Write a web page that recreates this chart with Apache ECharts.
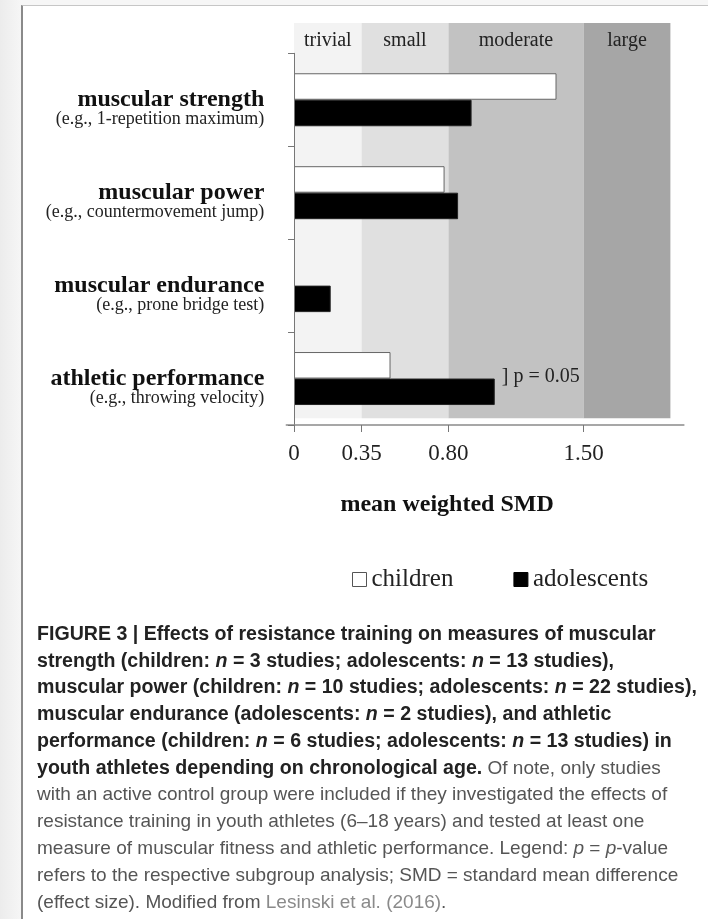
<!DOCTYPE html>
<html>
<head>
<meta charset="utf-8">
<script src="https://cdn.jsdelivr.net/npm/echarts@6/dist/echarts.min.js"></script>
<style>
  html, body { margin: 0; padding: 0; width: 708px; height: 919px; overflow: hidden;
    background: linear-gradient(to right, #ececec, #f6f6f6 21px); }
  #frame { position: absolute; left: 21px; top: 5px; right: 0; bottom: 0; background: #fff;
    border-left: 2px solid #8a8a8a; border-top: 1px solid #c6c6c6; }
  #chart { position: absolute; left: 0; top: 0; width: 708px; height: 919px; }
</style>
</head>
<body>
<div id="frame"></div>
<div id="chart"></div>
<script>
// ---- data ----
const categories = ['muscular strength', 'muscular power', 'muscular endurance', 'athletic performance'];
const examples = ['(e.g., 1-repetition maximum)', '(e.g., countermovement jump)', '(e.g., prone bridge test)', '(e.g., throwing velocity)'];
const seriesNames = ['children', 'adolescents'];
const children = [1.36, 0.78, null, 0.50];
const adolescents = [0.92, 0.85, 0.19, 1.04];
const pNotes = ['', '', '', '] p = 0.05'];
const bandNames = ['trivial', 'small', 'moderate', 'large'];
const bandFrom = [0, 0.35, 0.80, 1.50];
const bandTo = [0.35, 0.80, 1.50, 1.95];
const tickValues = [0, 0.35, 0.80, 1.50];
const tickLabels = ['0', '0.35', '0.80', '1.50'];
const axisTitle = 'mean weighted SMD';
const captionLines = [
  '{b|FIGURE 3 | Effects of resistance training on measures of muscular}',
  '{b|strength (children: }{bi|n}{b| = 3 studies; adolescents: }{bi|n}{b| = 13 studies),}',
  '{b|muscular power (children: }{bi|n}{b| = 10 studies; adolescents: }{bi|n}{b| = 22 studies),}',
  '{b|muscular endurance (adolescents: }{bi|n}{b| = 2 studies), and athletic}',
  '{b|performance (children: }{bi|n}{b| = 6 studies; adolescents: }{bi|n}{b| = 13 studies) in}',
  '{b|youth athletes depending on chronological age.}{r| Of note, only studies}',
  '{r|with an active control group were included if they investigated the effects of}',
  '{r|resistance training in youth athletes (6\u201318 years) and tested at least one}',
  '{r|measure of muscular fitness and athletic performance. Legend: }{ri|p}{r| = }{ri|p}{r|-value}',
  '{r|refers to the respective subgroup analysis; SMD = standard mean difference}',
  '{r|(effect size). Modified from }{l|Lesinski et al. (2016)}{r|.}'
];

// ---- chart ----
const SERIF = '"Liberation Serif", "Times New Roman", serif';
const SANS = '"Liberation Sans", Arial, sans-serif';
const chart = echarts.init(document.getElementById('chart'), null, { renderer: 'canvas' });

const bandColors = ['#f3f3f3', '#e0e0e0', '#c2c2c2', '#a6a6a6'];
const bandData = bandNames.map((n, i) => [
  { name: n, xAxis: bandFrom[i], itemStyle: { color: bandColors[i] } },
  { xAxis: bandTo[i] }
]);

const XMIN = -0.04, XMAX = 2.02;

const option = {
  animation: false,
  backgroundColor: 'transparent',
  grid: [
    { left: 286.3, right: 24.1, top: 53.3, bottom: 494, containLabel: false },
    { left: 286.3, right: 24.1, top: 23, bottom: 500.7, containLabel: false }
  ],
  xAxis: [
    {
      type: 'value', gridIndex: 0, min: XMIN, max: XMAX, z: 10,
      splitLine: { show: false },
      axisLine: { show: true, lineStyle: { color: '#8a8a8a', width: 1.5 } },
      axisTick: { show: true, length: 7, inside: false, customValues: tickValues, lineStyle: { color: '#777' } },
      axisLabel: {
        show: true, customValues: tickValues, margin: 17,
        fontFamily: SERIF, fontSize: 23, color: '#222',
        formatter: v => { const i = tickValues.indexOf(v); return i >= 0 ? tickLabels[i] : ''; }
      },
      name: axisTitle, nameLocation: 'middle', nameGap: 68,
      nameTextStyle: { fontFamily: SERIF, fontSize: 24, fontWeight: 'bold', color: '#111', padding: [0, 76, 0, 0] }
    },
    { type: 'value', gridIndex: 1, min: XMIN, max: XMAX, show: false }
  ],
  yAxis: [
    {
      type: 'category', gridIndex: 0, data: categories, inverse: true, z: 10,
      axisLine: { show: true, onZero: true, lineStyle: { color: '#777', width: 1 } },
      axisTick: { show: true, length: 6, inside: false, lineStyle: { color: '#777' } },
      axisLabel: {
        interval: 0, margin: 22, padding: [18, 0, 0, 0],
        formatter: (v, i) => '{a|' + v + '}\n{b|' + examples[i] + '}',
        rich: {
          a: { fontFamily: SERIF, fontSize: 24, fontWeight: 'bold', color: '#111', lineHeight: 22, align: 'right' },
          b: { fontFamily: SERIF, fontSize: 18, color: '#222', lineHeight: 18, align: 'right' }
        }
      }
    },
    { type: 'value', gridIndex: 1, min: 0, max: 1, show: false }
  ],
  legend: {
    data: [
      { name: seriesNames[0], itemStyle: { color: '#fff', borderColor: '#555', borderWidth: 1 } },
      { name: seriesNames[1], itemStyle: { color: '#000', borderColor: '#000', borderWidth: 1 } }
    ],
    icon: 'rect', itemWidth: 14, itemHeight: 14, itemGap: 60,
    left: 352, top: 567, padding: 0,
    textStyle: { fontFamily: SERIF, fontSize: 25, color: '#222' },
    selectedMode: false
  },
  series: [
    {
      name: 'bands', type: 'line', xAxisIndex: 1, yAxisIndex: 1, data: [], z: 0, silent: true,
      markArea: {
        silent: true, z: 0,
        label: { show: true, position: 'insideTop', distance: 8, fontFamily: SERIF, fontSize: 20, color: '#222' },
        data: bandData
      }
    },
    {
      name: seriesNames[0], type: 'bar', xAxisIndex: 0, yAxisIndex: 0, z: 5,
      data: children, barWidth: 26.5, barGap: '0%',
      itemStyle: { color: '#fff', borderColor: '#666', borderWidth: 1 }
    },
    {
      name: seriesNames[1], type: 'bar', xAxisIndex: 0, yAxisIndex: 0, z: 5,
      barWidth: 26.5, barGap: '0%',
      itemStyle: { color: '#000', borderColor: '#222', borderWidth: 1 },
      data: adolescents.map((v, i) => pNotes[i] ? {
        value: v,
        label: { show: true, position: 'right', distance: 7, offset: [0, -15.5], formatter: pNotes[i],
          fontFamily: SERIF, fontSize: 20, color: '#222' }
      } : v)
    }
  ],
  graphic: [
    {
      type: 'text', left: 37, top: 621, z: 10,
      style: {
        text: captionLines.join('\n'),
        fontFamily: SANS, fontSize: 19, lineHeight: 26.8, fill: '#555',
        rich: {
          b: { fontFamily: SANS, fontSize: 19.6, fontWeight: 'bold', fill: '#222', lineHeight: 26.8 },
          bi: { fontFamily: SANS, fontSize: 19.6, fontWeight: 'bold', fontStyle: 'italic', fill: '#222', lineHeight: 26.8 },
          r: { fontFamily: SANS, fontSize: 19, fill: '#555', lineHeight: 26.8 },
          ri: { fontFamily: SANS, fontSize: 19, fontStyle: 'italic', fill: '#555', lineHeight: 26.8 },
          l: { fontFamily: SANS, fontSize: 19, fill: '#8a8a8a', lineHeight: 26.8 }
        }
      }
    }
  ]
};
chart.setOption(option);
</script>
</body>
</html>
